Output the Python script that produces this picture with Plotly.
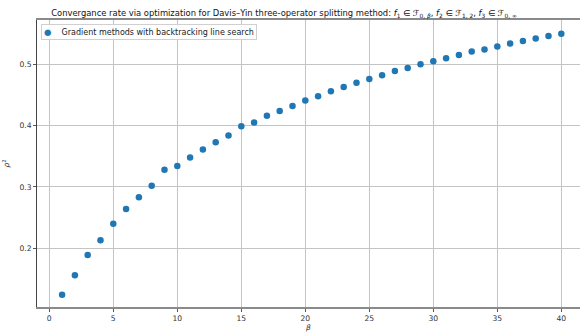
import plotly.graph_objects as go

beta = list(range(1, 41))
rho2 = [0.124, 0.156, 0.189, 0.213, 0.240, 0.264, 0.283, 0.302, 0.328, 0.334,
        0.348, 0.361, 0.373, 0.384, 0.399, 0.405, 0.416, 0.424, 0.432, 0.441,
        0.448, 0.456, 0.463, 0.470, 0.476, 0.482, 0.489, 0.494, 0.500, 0.505,
        0.510, 0.515, 0.521, 0.524, 0.529, 0.534, 0.538, 0.542, 0.546, 0.550]
legend_name = "Gradient methods with backtracking line search"
title_text = ("Convergance rate via optimization for Davis–Yin three-operator splitting method: "
              "<i>f</i><sub>1</sub> ∈ ℱ<sub>0, <i>β</i></sub>, "
              "<i>f</i><sub>2</sub> ∈ ℱ<sub>1, 2</sub>, "
              "<i>f</i><sub>3</sub> ∈ ℱ<sub>0, ∞</sub>")

fig = go.Figure()
fig.add_trace(go.Scatter(
    x=beta, y=rho2, mode="markers", name=legend_name,
    marker=dict(color="#1f77b4", size=6.5, line=dict(width=0)),
    showlegend=False,
))

font = "DejaVu Sans"
fig.update_layout(
    width=580, height=332,
    margin=dict(l=37, r=0, t=20, b=25),
    paper_bgcolor="white", plot_bgcolor="white",
    font=dict(family=font, size=8, color="#222"),
    title=dict(text=title_text, xref="container", x=284/580, xanchor="center",
               yref="container", y=1 - 13/332, yanchor="middle",
               font=dict(family=font, size=8.4, color="#111")),
    showlegend=False,
)
# legend box (manual, matplotlib-like compact layout)
fig.add_annotation(
    xref="paper", yref="paper", x=0.0075, y=0.986, xanchor="left", yanchor="top",
    text=("<span style='color:#1f77b4;font-size:8.5px'>●</span>"
          "    " + legend_name),
    showarrow=False, align="left",
    font=dict(family=font, size=8, color="#222"),
    bgcolor="rgba(255,255,255,0.85)", bordercolor="#d0d0d0", borderwidth=1,
    borderpad=2,
)
fig.update_xaxes(
    range=[-0.96, 41.46], tickvals=[0, 5, 10, 15, 20, 25, 30, 35, 40],
    showgrid=True, gridcolor="#c4c4c4", gridwidth=0.8,
    showline=True, linecolor="#8a8a8a", linewidth=1.6, mirror=True,
    ticks="outside", ticklen=3, tickcolor="#555", tickwidth=0.8,
    tickfont=dict(family=font, size=7.6, color="#333"),
    zeroline=False,
    title=dict(text="<i>β</i>", standoff=2, font=dict(family=font, size=7.5, color="#333")),
)
fig.update_yaxes(
    range=[0.104, 0.5723], tickvals=[0.2, 0.3, 0.4, 0.5], tickformat=".1f",
    showgrid=True, gridcolor="#c4c4c4", gridwidth=0.8,
    showline=True, linecolor="#444", linewidth=1, mirror=False,
    ticks="outside", ticklen=3, tickcolor="#555", tickwidth=0.8,
    tickfont=dict(family=font, size=7.6, color="#333"),
    zeroline=False,
    title=dict(text="<i>ρ</i><sup>2</sup>", standoff=8, font=dict(family=font, size=7.5, color="#333")),
)

fig.write_html("out.html")
